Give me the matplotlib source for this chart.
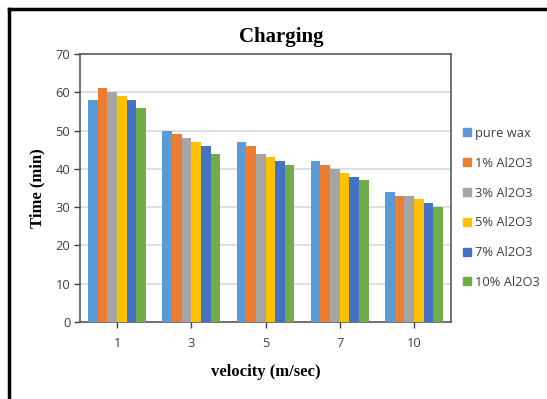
import numpy as np
import matplotlib
matplotlib.use("Agg")
import matplotlib.pyplot as plt
from matplotlib.lines import Line2D

# charging time per velocity for each wax mixture
velocity = ["1", "3", "5", "7", "10"]
series_names = ["pure wax", "1% Al2O3", "3% Al2O3", "5% Al2O3", "7% Al2O3", "10% Al2O3"]
pure_wax = [58, 50, 47, 42, 34]
al_1 = [61, 49, 46, 41, 33]
al_3 = [60, 48, 44, 40, 33]
al_5 = [59, 47, 43, 39, 32]
al_7 = [58, 46, 42, 38, 31]
al_10 = [56, 44, 41, 37, 30]
y_ticks = [0, 10, 20, 30, 40, 50, 60, 70]

colors = ["#5B9BD5", "#ED7D31", "#A5A5A5", "#FFC000", "#4472C4", "#70AD47"]
series = [pure_wax, al_1, al_3, al_5, al_7, al_10]

fig = plt.figure(figsize=(5.47, 3.99), dpi=100)
ax = fig.add_axes([80 / 547, 1 - 322 / 399, 371 / 547, 268 / 399])

x = np.arange(len(velocity))
width = 0.78 / len(series)
for i, vals in enumerate(series):
    ax.bar(x - 0.39 + width * (i + 0.5), vals, width, color=colors[i], zorder=3)

ax.set_xlim(-0.5, len(velocity) - 0.5)
ax.set_ylim(0, 70)
ax.set_yticks(y_ticks)
ax.set_xticks(x)
ax.set_xticklabels(velocity)

for lbl in ax.get_xticklabels() + ax.get_yticklabels():
    lbl.set_fontfamily("Open Sans")
    lbl.set_fontsize(9.3)
    lbl.set_color("#404040")

ax.tick_params(axis="y", length=4, width=1, color="#404040", pad=3)
ax.tick_params(axis="x", length=4, width=1, color="#404040", pad=7)
ax.grid(axis="y", color="#D9D9D9", linewidth=1.2, zorder=0)
for s in ax.spines.values():
    s.set_color("#595959")
    s.set_linewidth(1.2)

ax.set_xlabel("velocity (m/sec)", family="Liberation Serif", fontweight="bold",
              fontsize=12, labelpad=10)
ax.set_ylabel("Time (min)", family="Liberation Serif", fontweight="bold",
              fontsize=12, labelpad=7)
fig.text(281 / 547, 1 - 37 / 399, "Charging", family="Liberation Serif",
         fontweight="bold", fontsize=15, ha="center", va="center")

handles = [Line2D([0], [0], marker="s", linestyle="", markersize=6,
                  markerfacecolor=c, markeredgecolor=c) for c in colors]
leg = fig.legend(handles, series_names, loc="center left",
                 bbox_to_anchor=(449 / 547, 1 - 208 / 399), frameon=False,
                 prop={"family": "Open Sans", "size": 9.3},
                 handletextpad=0.1, labelspacing=1.3, handlelength=1.0)
for t in leg.get_texts():
    t.set_color("#404040")

# outer frame: heavy line along top and left edges
fig.add_artist(Line2D([8.5 / 547, 8.5 / 547], [0, 1 - 8.5 / 399], color="black",
                      linewidth=2.5, transform=fig.transFigure))
fig.add_artist(Line2D([8.5 / 547, 1], [1 - 8.5 / 399, 1 - 8.5 / 399], color="black",
                      linewidth=2.5, transform=fig.transFigure))

fig.savefig("out.png", dpi=100)
